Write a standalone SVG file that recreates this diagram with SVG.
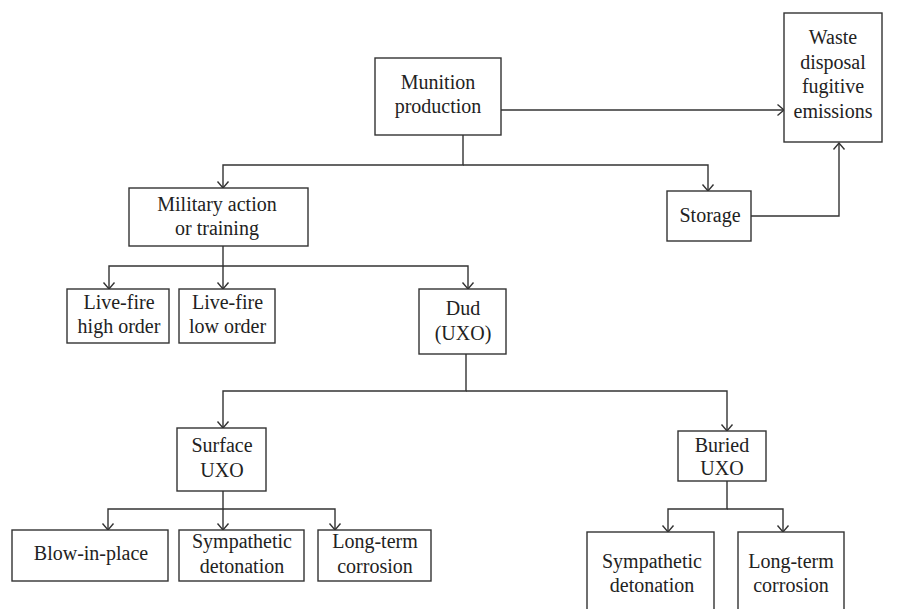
<svg xmlns="http://www.w3.org/2000/svg" width="908" height="609" viewBox="0 0 908 609">
<style>
.box{fill:#fff;stroke:#333;stroke-width:1.4}
.lbl{font-family:"Liberation Serif","Times New Roman",serif;font-size:20px;fill:#222;text-anchor:middle}
.con{fill:none;stroke:#333;stroke-width:1.4}
</style>
<defs>
<marker id="arr" markerUnits="userSpaceOnUse" markerWidth="14" markerHeight="14" viewBox="-8 -7 10 14" refX="0" refY="0" orient="auto">
<path d="M-6.5,-5.5 L0,0 L-6.5,5.5" fill="none" stroke="#333" stroke-width="1.4"/>
</marker>
</defs>
<rect width="908" height="609" fill="#fff"/>
<g id="connectors">
<path class="con" d="M501,110 H784" marker-end="url(#arr)"/>
<path class="con" d="M463,135 V165 H223 V188" marker-end="url(#arr)"/>
<path class="con" d="M463,165 H708 V191" marker-end="url(#arr)"/>
<path class="con" d="M751,216 H839 V143" marker-end="url(#arr)"/>
<path class="con" d="M223,246 V266 H109 V289" marker-end="url(#arr)"/>
<path class="con" d="M223,266 V289" marker-end="url(#arr)"/>
<path class="con" d="M223,266 H468 V289" marker-end="url(#arr)"/>
<path class="con" d="M466,354 V391 H223 V428" marker-end="url(#arr)"/>
<path class="con" d="M466,391 H727 V431" marker-end="url(#arr)"/>
<path class="con" d="M223,491 V509 H108 V530" marker-end="url(#arr)"/>
<path class="con" d="M223,509 V530" marker-end="url(#arr)"/>
<path class="con" d="M223,509 H335 V530" marker-end="url(#arr)"/>
<path class="con" d="M727,481 V509 H668 V532" marker-end="url(#arr)"/>
<path class="con" d="M727,509 H783 V532" marker-end="url(#arr)"/>
</g>
<g id="munition">
<rect class="box" x="375" y="58" width="126" height="77"/>
<text class="lbl" x="438" y="89">Munition</text>
<text class="lbl" x="438" y="113">production</text>
</g>
<g id="waste">
<rect class="box" x="784" y="13" width="98" height="129"/>
<text class="lbl" x="833" y="44">Waste</text>
<text class="lbl" x="833" y="68.5">disposal</text>
<text class="lbl" x="833" y="93">fugitive</text>
<text class="lbl" x="833" y="117.5">emissions</text>
</g>
<g id="storage">
<rect class="box" x="667" y="191" width="84" height="50"/>
<text class="lbl" x="710" y="222">Storage</text>
</g>
<g id="military">
<rect class="box" x="129" y="188" width="179" height="58"/>
<text class="lbl" x="217" y="211">Military action</text>
<text class="lbl" x="217" y="235">or training</text>
</g>
<g id="livefire-high">
<rect class="box" x="67" y="289" width="102" height="54"/>
<text class="lbl" x="119" y="309">Live-fire</text>
<text class="lbl" x="119" y="333">high order</text>
</g>
<g id="livefire-low">
<rect class="box" x="179" y="289" width="96" height="54"/>
<text class="lbl" x="227.5" y="309">Live-fire</text>
<text class="lbl" x="227.5" y="333">low order</text>
</g>
<g id="dud">
<rect class="box" x="419" y="289" width="87" height="65"/>
<text class="lbl" x="463" y="315">Dud</text>
<text class="lbl" x="463" y="340">(UXO)</text>
</g>
<g id="surface">
<rect class="box" x="177" y="428" width="89" height="63"/>
<text class="lbl" x="222" y="452">Surface</text>
<text class="lbl" x="222" y="477">UXO</text>
</g>
<g id="buried">
<rect class="box" x="678" y="431" width="88" height="50"/>
<text class="lbl" x="722" y="452">Buried</text>
<text class="lbl" x="722" y="475">UXO</text>
</g>
<g id="blow">
<rect class="box" x="12" y="530" width="156" height="51"/>
<text class="lbl" x="91" y="560">Blow-in-place</text>
</g>
<g id="sympathetic-surface">
<rect class="box" x="179" y="530" width="125" height="51"/>
<text class="lbl" x="242" y="548">Sympathetic</text>
<text class="lbl" x="242" y="573">detonation</text>
</g>
<g id="corrosion-surface">
<rect class="box" x="318" y="530" width="113" height="51"/>
<text class="lbl" x="375" y="548">Long-term</text>
<text class="lbl" x="375" y="573">corrosion</text>
</g>
<g id="sympathetic-buried">
<rect class="box" x="587" y="532" width="127" height="90"/>
<text class="lbl" x="652" y="568">Sympathetic</text>
<text class="lbl" x="652" y="592">detonation</text>
</g>
<g id="corrosion-buried">
<rect class="box" x="738" y="532" width="106" height="90"/>
<text class="lbl" x="791" y="568">Long-term</text>
<text class="lbl" x="791" y="592">corrosion</text>
</g>
</svg>
